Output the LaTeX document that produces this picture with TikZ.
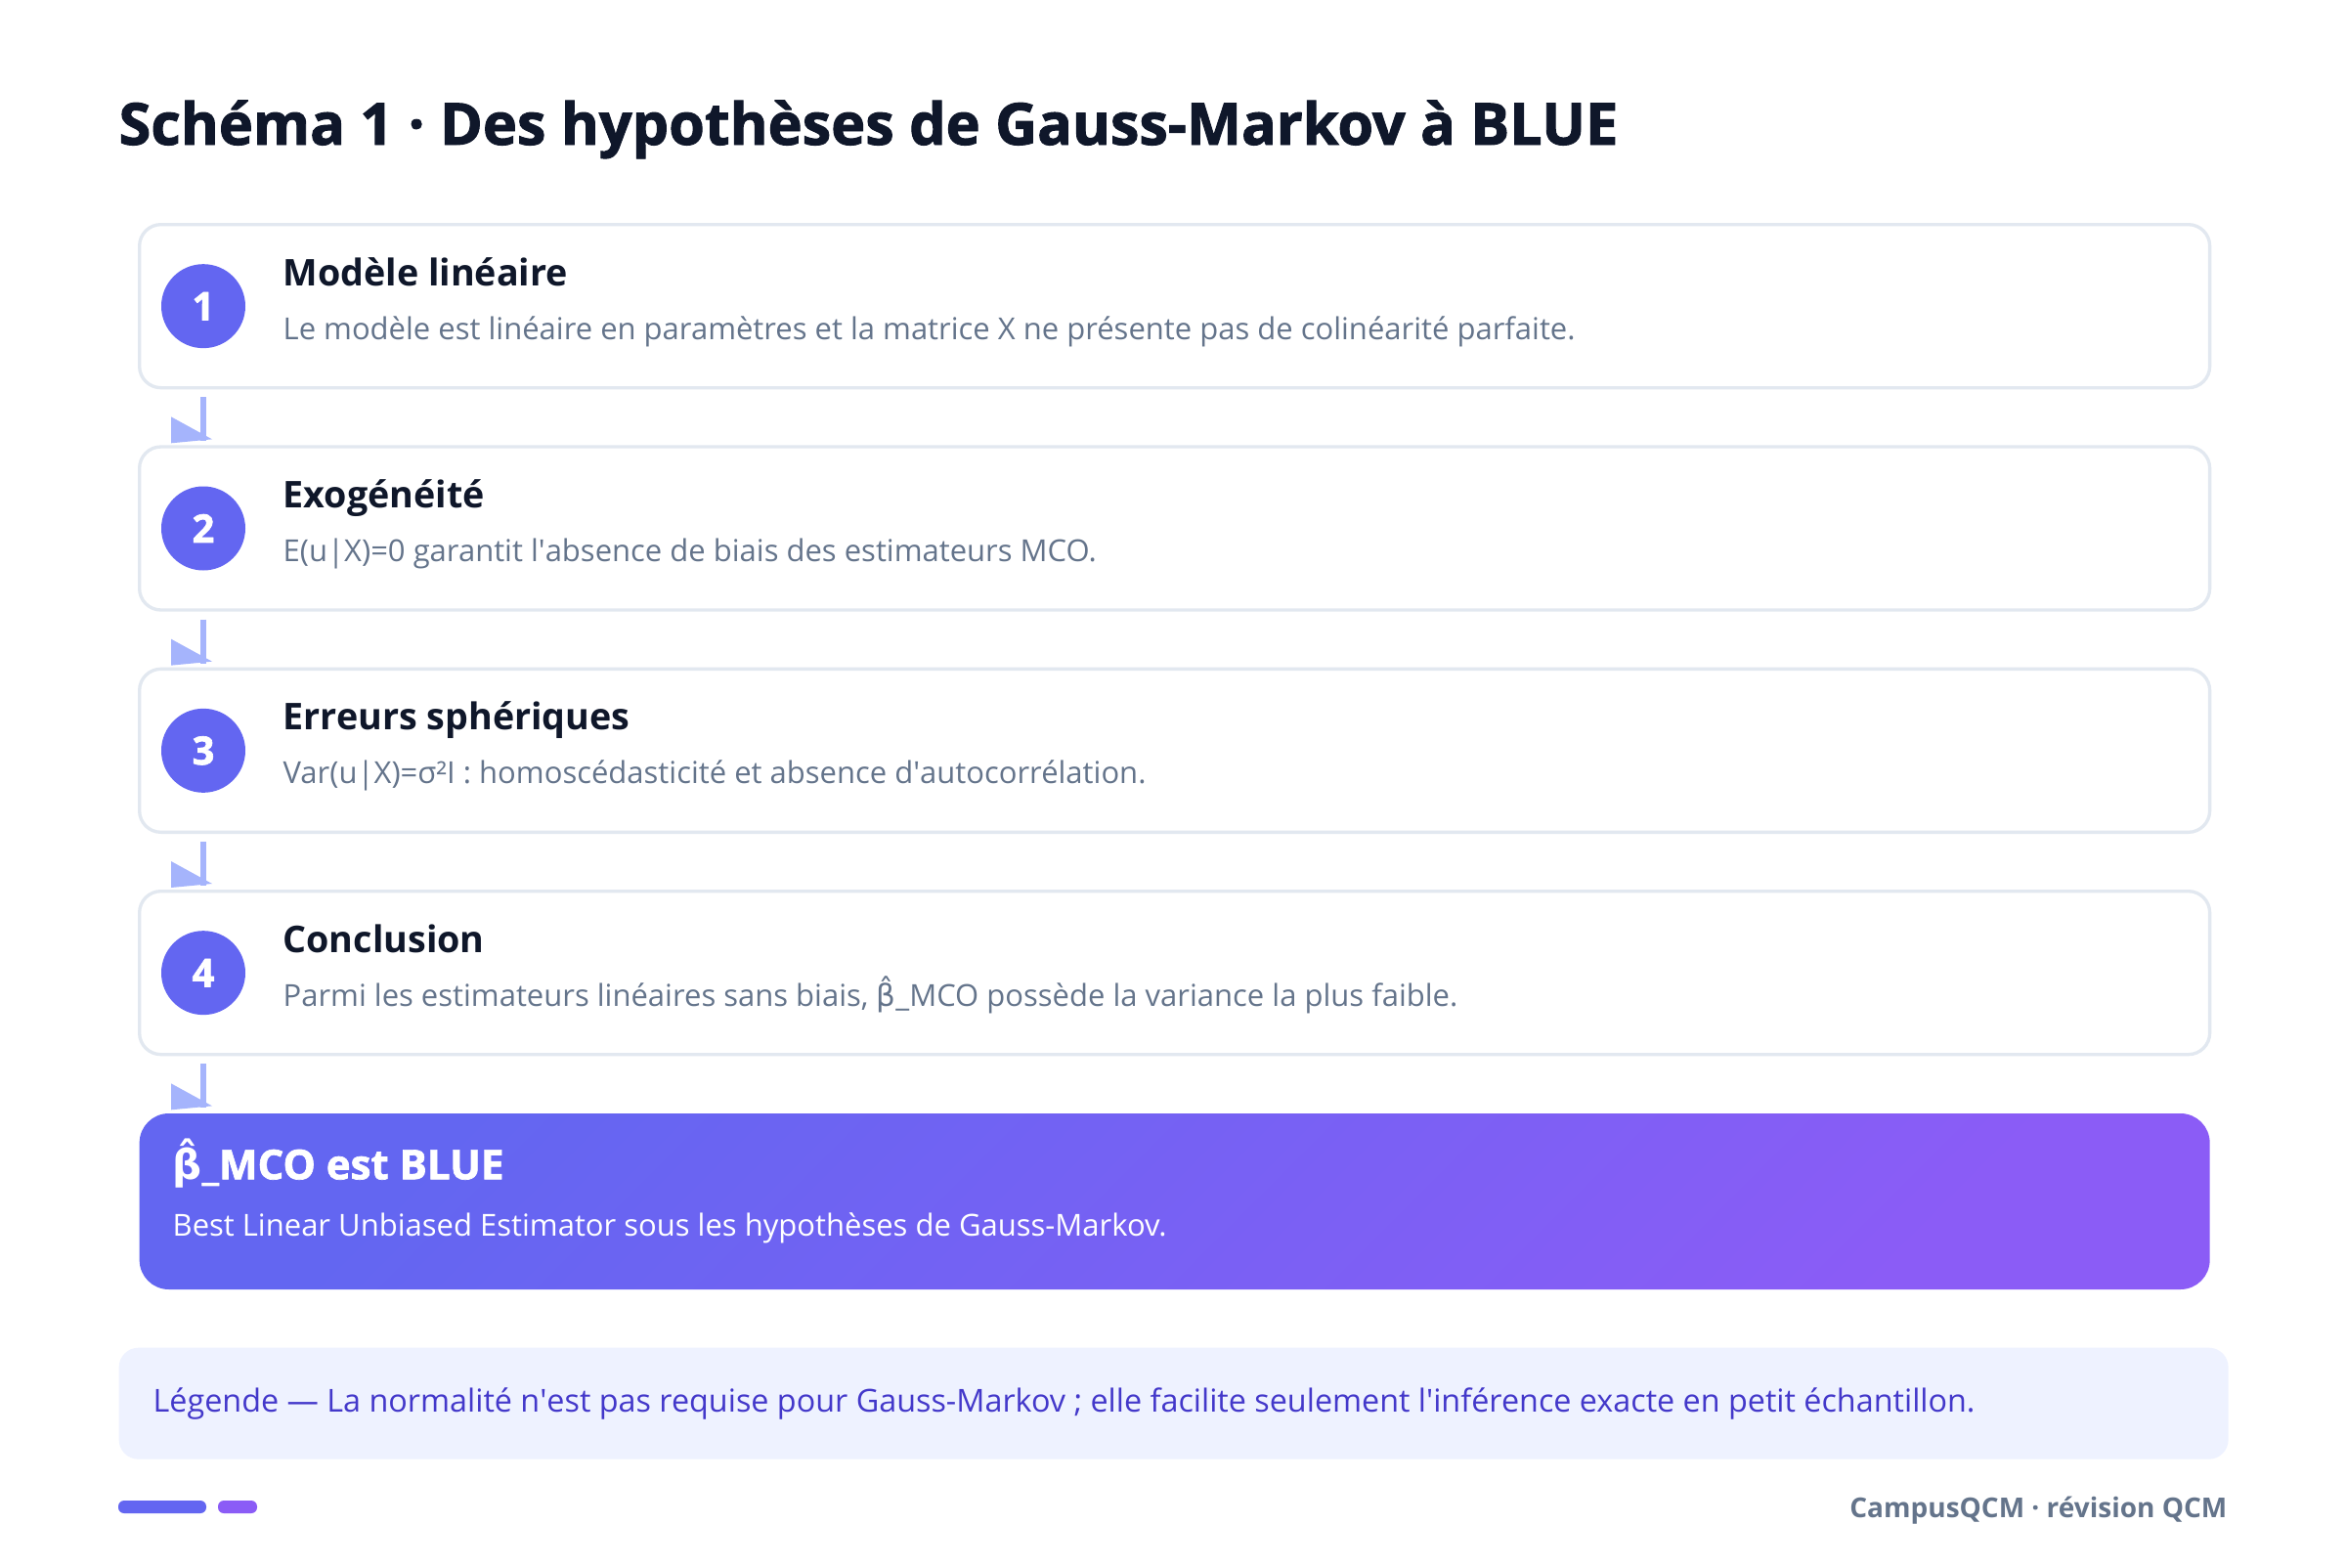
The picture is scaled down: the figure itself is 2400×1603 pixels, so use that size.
\documentclass[tikz,border=0pt]{standalone}
\usepackage{fontspec}
\setmainfont{Open Sans}
\newfontfamily\heavyfont{Open Sans}[BoldFeatures={FakeBold=1.6}]
\newfontfamily\symfont{DejaVu Sans}
\usetikzlibrary{positioning}
\definecolor{ink}{HTML}{0F172A}
\definecolor{muted}{HTML}{64748B}
\definecolor{edgecol}{HTML}{E2E8F0}
\definecolor{indigo}{HTML}{6366F1}
\definecolor{violet}{HTML}{8B5CF6}
\definecolor{flowcol}{HTML}{A5B4FC}
\definecolor{legendbg}{HTML}{EEF2FF}
\definecolor{legendtxt}{HTML}{4338CA}
\tikzset{>=latex}
% beta chapeau (accent combinant absent d'Open Sans)
\newcommand{\betahat}{{\symfont β̂}}
% fleche entre deux etapes: ligne + pointe en coin
\newcommand{\flowarrow}[2]{%
  \draw[flow] ([yshift=-2.4pt]#1.south -| n1) -- ([yshift=1.2pt]#2.north -| n1) coordinate (tip);
  \fill[flowcol] ([shift={(-9.9pt,7.5pt)}]tip) -- ([shift={(2.7pt,0.6pt)}]tip) -- ([shift={(-9.9pt,-0.6pt)}]tip) -- cycle;}

\begin{document}
\begin{tikzpicture}[x=0.3pt, y=-0.3pt,
  stepbox/.style={draw=edgecol, line width=1pt, fill=white, rounded corners=6.6pt, minimum width=635.4pt, minimum height=50.1pt, inner sep=0pt},
  num/.style={circle, fill=indigo, text=white, minimum size=25.8pt, inner sep=0pt, font=\heavyfont\bfseries\fontsize{12}{14}\selectfont},
  head/.style={anchor=base west, inner sep=0pt, text=ink, font=\bfseries\fontsize{11.3}{13}\selectfont},
  desc/.style={anchor=base west, inner sep=0pt, text=muted, font=\fontsize{9.3}{11}\selectfont},
  flow/.style={draw=flowcol, line width=1.8pt},
  node distance=17.1pt]
	\useasboundingbox[fill=white] (0,0) rectangle (2400,1603);
	\node[anchor=base west, inner sep=0pt, text=ink, font=\heavyfont\bfseries\fontsize{17.8}{20}\selectfont] (title) at (121,148) {Schéma 1 · Des hypothèses de Gauss-Markov à BLUE};

	\node[stepbox, anchor=north west] (b1) at (141,228) {};
	\node[stepbox] (b2) [below=of b1] {};
	\node[stepbox] (b3) [below=of b2] {};
	\node[stepbox] (b4) [below=of b3] {};
	\node[stepbox, draw=none, rounded corners=9pt, minimum height=54pt, top color=indigo, bottom color=violet, shading angle=45] (blue) [below=of b4] {};

	\node[num] (n1) at ([xshift=20.1pt]b1.west) {1};
	\node[num] (n2) at ([xshift=20.1pt]b2.west) {2};
	\node[num] (n3) at ([xshift=20.1pt]b3.west) {3};
	\node[num] (n4) at ([xshift=20.1pt]b4.west) {4};

	\node[head] (h1) at ([shift={(44.4pt,-19.2pt)}]b1.north west) {Modèle linéaire};
	\node[desc] (d1) at ([shift={(44.4pt,-35.7pt)}]b1.north west) {Le modèle est linéaire en paramètres et la matrice X ne présente pas de colinéarité parfaite.};
	\node[head] (h2) at ([shift={(44.4pt,-19.2pt)}]b2.north west) {Exogénéité};
	\node[desc] (d2) at ([shift={(44.4pt,-35.7pt)}]b2.north west) {E(u|X)=0 garantit l\textquotesingle absence de biais des estimateurs MCO.};
	\node[head] (h3) at ([shift={(44.4pt,-19.2pt)}]b3.north west) {Erreurs sphériques};
	\node[desc] (d3) at ([shift={(44.4pt,-35.7pt)}]b3.north west) {Var(u|X)=σ²I : homoscédasticité et absence d\textquotesingle autocorrélation.};
	\node[head] (h4) at ([shift={(44.4pt,-19.2pt)}]b4.north west) {Conclusion};
	\node[desc] (d4) at ([shift={(44.4pt,-35.7pt)}]b4.north west) {Parmi les estimateurs linéaires sans biais, \betahat\_MCO possède la variance la plus faible.};

	\node[head, text=white, font=\heavyfont\bfseries\fontsize{12.6}{15}\selectfont] (h5) at ([shift={(10.5pt,-20.7pt)}]blue.north west) {\betahat\_MCO est BLUE};
	\node[desc, text=white, font=\fontsize{9.3}{11}\selectfont] (d5) at ([shift={(10.5pt,-38.1pt)}]blue.north west) {Best Linear Unbiased Estimator sous les hypothèses de Gauss-Markov.};

	\flowarrow{b1}{b2}
	\flowarrow{b2}{b3}
	\flowarrow{b3}{b4}
	\flowarrow{b4}{blue}

	\node[fill=legendbg, rounded corners=6pt, minimum width=647.4pt, minimum height=34.2pt, anchor=north west, inner sep=0pt] (legend) at (121,1378) {};
	\node[anchor=west, inner sep=0pt, text=legendtxt, font=\fontsize{9.7}{11}\selectfont] (ltext) at ([xshift=10.5pt]legend.west) {Légende — La normalité n\textquotesingle est pas requise pour Gauss-Markov ; elle facilite seulement l\textquotesingle inférence exacte en petit échantillon.};

	\fill[indigo, rounded corners=1.8pt] (121,1535) rectangle (211,1548);
	\fill[violet, rounded corners=1.8pt] (223,1535) rectangle (263,1548);
	\node[anchor=base east, inner sep=0pt, text=muted, font=\bfseries\fontsize{8.4}{10}\selectfont] (footer) at (2279,1552) {CampusQCM · révision QCM};
\end{tikzpicture}
\end{document}
